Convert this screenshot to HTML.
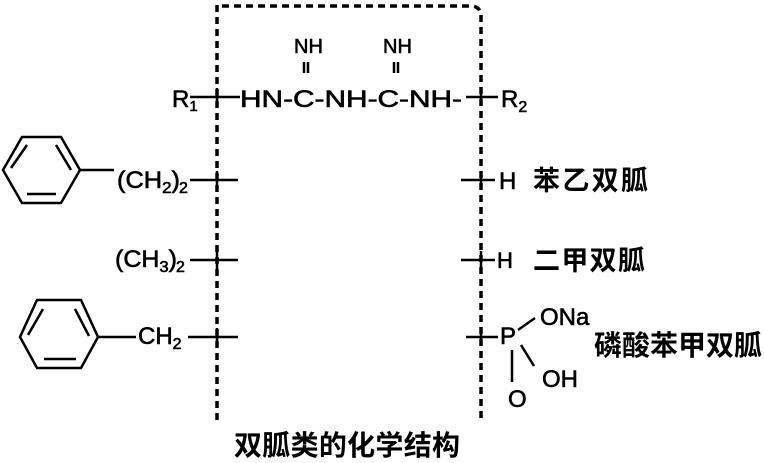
<!DOCTYPE html>
<html><head><meta charset="utf-8"><style>
html,body{margin:0;padding:0;background:#fff;}
svg{display:block}
text{font-family:"Liberation Sans","Noto Sans CJK SC",sans-serif;fill:#000;}
.cn{font-family:"Noto Sans CJK SC","WenQuanYi Zen Hei",sans-serif;font-weight:bold;}
</style></head><body>
<svg width="764" height="463" viewBox="0 0 764 463" xmlns="http://www.w3.org/2000/svg">
<g stroke="#000" stroke-width="3.5" fill="none" stroke-dasharray="7,5">
<path d="M217 5 V420"/>
<path d="M222 6 H470 Q481 6 481 16 V420"/>
</g>
<g font-size="24" stroke="#000" stroke-width="0.6">
<text x="172" y="107">R<tspan font-size="15" dy="4">1</tspan></text>
<text x="240" y="107" textLength="222" lengthAdjust="spacingAndGlyphs">HN-C-NH-C-NH-</text>
<text x="294" y="53" font-size="20">NH</text>
<text x="383" y="53" font-size="20">NH</text>
<text x="501" y="107">R<tspan font-size="16" dy="5">2</tspan></text>
<text x="117" y="188" textLength="63" lengthAdjust="spacingAndGlyphs">(CH<tspan font-size="16" dy="5">2</tspan><tspan dy="-5">)</tspan></text><text x="179" y="193" font-size="16">2</text>
<text x="115" y="267" textLength="62" lengthAdjust="spacingAndGlyphs">(CH<tspan font-size="16" dy="5">3</tspan><tspan dy="-5">)</tspan></text><text x="176" y="272" font-size="16">2</text>
<text x="138" y="344">CH<tspan font-size="16" dy="5">2</tspan></text>
<text x="499" y="189">H</text>
<text x="497" y="268" font-size="22">H</text>
<text x="500" y="344">P</text>
<text x="540" y="325">ONa</text>
<text x="542" y="387">OH</text>
<text x="508" y="407">O</text>
</g>
<g stroke="#000" stroke-width="2.5" fill="none">
<path d="M190 97 H240 M217 88 V106"/>
<path d="M466 97 H498 M481 88 V106"/>
<path d="M304 62 V73 M308 62 V73 M394 62 V73 M398 62 V73"/>
<path d="M190 180 H238 M217 171 V189"/>
<path d="M190 260 H238 M217 251 V269"/>
<path d="M188 337 H238 M217 328 V346"/>
<path d="M461 180 H495 M481 171 V189"/>
<path d="M461 260 H495 M481 251 V269"/>
<path d="M466 337 H498 M481 328 V346"/>
<path d="M518 330 L535 318 M521 345 L534 366 M512 350 V382"/>
<path d="M80 170 H114 M98 337 H136"/>
<polygon points="80,170 61,203 22,203 3,170 22,137 61,137"/>
<path d="M56 145 L71 170 M27 194 H56 M11 168 L27 145"/>
<polygon points="98,337 81,368 37,368 20,337 37,300 81,300"/>
<path d="M75 309 L89 336 M44 359 H76 M28 335 L43 309"/>
</g>
<g class="cn">
<text x="533" y="190" font-size="27" class="cn" textLength="115">苯乙双胍</text>
<text x="533" y="270" font-size="27" class="cn" textLength="112">二甲双胍</text>
<text x="594" y="355" font-size="28" class="cn" textLength="168">磷酸苯甲双胍</text>
<text x="234" y="455" font-size="28" class="cn" textLength="226">双胍类的化学结构</text>
</g>
</svg>
</body></html>
